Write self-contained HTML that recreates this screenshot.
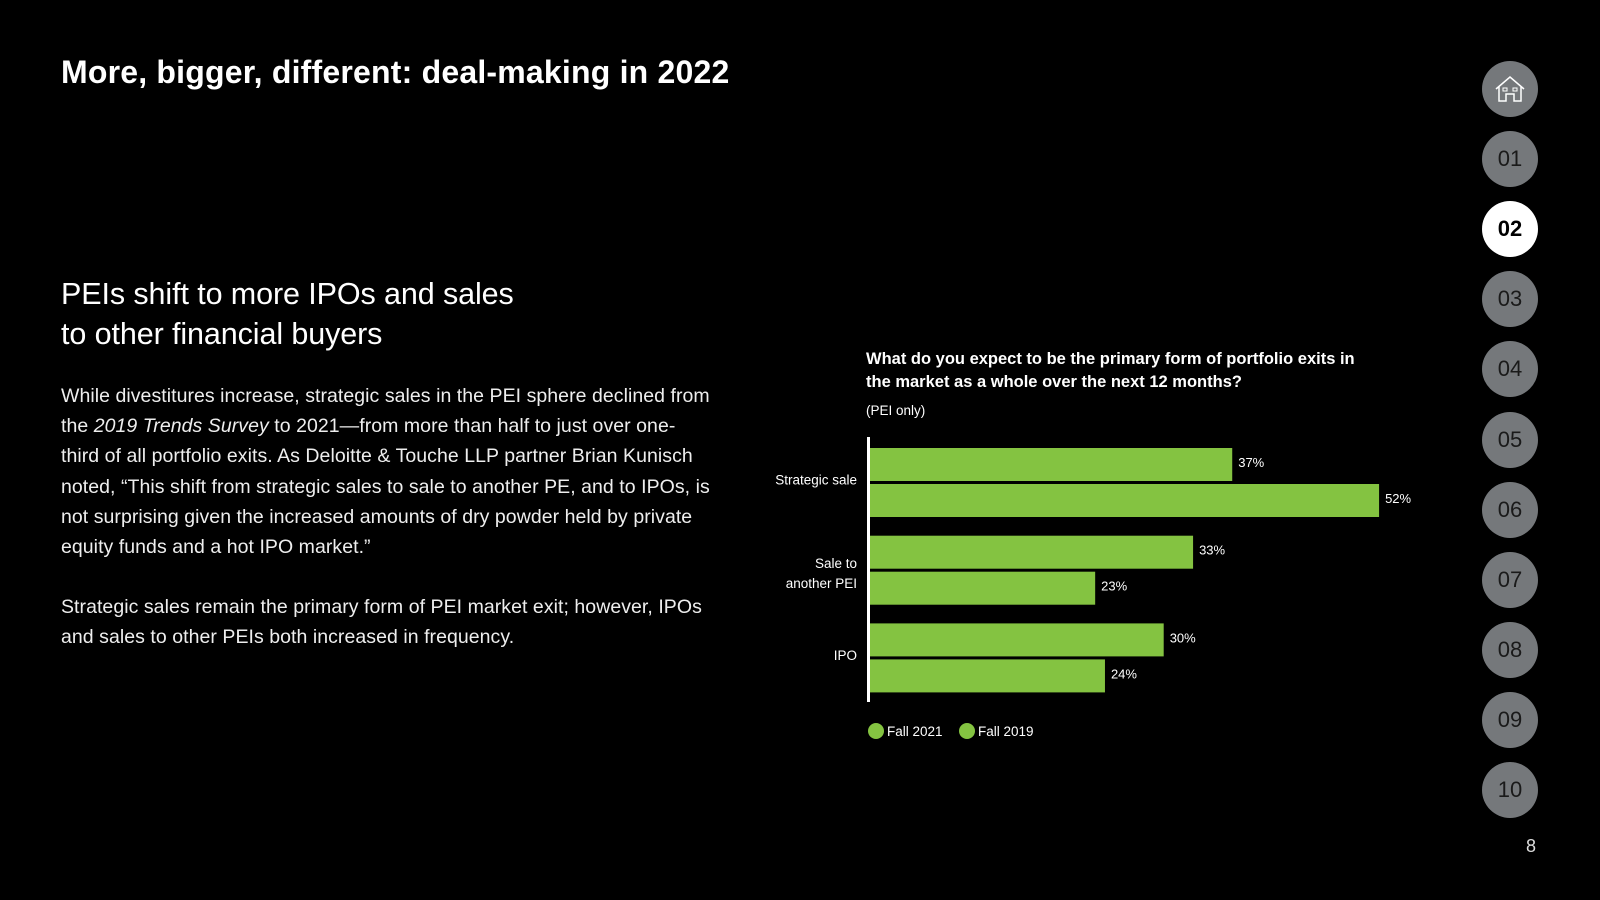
<!DOCTYPE html>
<html><head><meta charset="utf-8">
<style>
html,body{margin:0;padding:0;background:#000;}
body{width:1600px;height:900px;position:relative;overflow:hidden;font-family:"Liberation Sans",sans-serif;color:#fff;}
.abs{position:absolute;white-space:nowrap;}
#title{left:61px;top:54px;font-size:32px;font-weight:bold;letter-spacing:0.2px;}
#sub{left:61px;top:274px;font-size:30.5px;line-height:40px;letter-spacing:-0.1px;}
.body{left:61px;font-size:19.5px;line-height:30.2px;letter-spacing:0.05px;color:#eee;}
.nav{position:absolute;left:1482px;width:56px;height:56px;border-radius:50%;background:#75787b;color:#1a1a1a;font-size:22px;text-align:center;line-height:56px;}
.nav.active{background:#fff;color:#000;font-weight:bold;}
</style></head><body>
<div class="abs" id="title">More, bigger, different: deal-making in 2022</div>
<div class="abs" id="sub">PEIs shift to more IPOs and sales<br>to other financial buyers</div>
<div class="abs body" style="top:381px">While divestitures increase, strategic sales in the PEI sphere declined from<br>the <i>2019 Trends Survey</i> to 2021—from more than half to just over one-<br>third of all portfolio exits. As Deloitte &amp; Touche LLP partner Brian Kunisch<br>noted, “This shift from strategic sales to sale to another PE, and to IPOs, is<br>not surprising given the increased amounts of dry powder held by private<br>equity funds and a hot IPO market.”</div>
<div class="abs body" style="top:592px">Strategic sales remain the primary form of PEI market exit; however, IPOs<br>and sales to other PEIs both increased in frequency.</div>

<div id="navwrap"></div>
<div class="abs" style="left:1526px;top:836px;font-size:18px;color:#ddd">8</div>

<svg id="chart" width="1600" height="900" style="position:absolute;left:0;top:0">
<text x="866" y="364" font-size="16.5" font-weight="bold" fill="#fff">What do you expect to be the primary form of portfolio exits in</text>
<text x="866" y="387" font-size="16.5" font-weight="bold" fill="#fff">the market as a whole over the next 12 months?</text>
<text x="866" y="415" font-size="13.5" fill="#fff">(PEI only)</text>
<g id="bars"></g>
<rect x="867" y="437" width="3" height="265" fill="#fff"/>
<g id="legend"></g>
</svg>

<script>
const categories = [["Strategic sale"], ["Sale to", "another PEI"], ["IPO"]];
const fall2021 = [37, 33, 30];
const fall2019 = [52, 23, 24];
const seriesNames = ["Fall 2021", "Fall 2019"];

const NS = "http://www.w3.org/2000/svg";
const x0 = 870, pxPer = 9.79;
const xScale = v => x0 + v * pxPer;
const groupTop = i => 448 + i * 87.7;
const barH = 33, barGap = 3;
const green = "#84c341";
const g = document.getElementById("bars");
function mk(tag, attrs){const e=document.createElementNS(NS,tag);for(const k in attrs)e.setAttribute(k,attrs[k]);return e;}

categories.forEach((cat, i) => {
  const top = groupTop(i);
  [fall2021[i], fall2019[i]].forEach((v, j) => {
    const y = top + j * (barH + barGap);
    const r = mk("rect", {x: x0, y: y, width: xScale(v) - x0, height: barH, fill: green});
    
    
    g.appendChild(r);
    const t = mk("text", {x: xScale(v) + 6, y: y + 19, "font-size": 13, fill: "#fff"});
    t.textContent = v + "%";
    
    
    g.appendChild(t);
  });
  const mid = top + barH + barGap / 2;
  cat.forEach((line, k) => {
    const t = mk("text", {x: 857, y: mid + 2 + (k - (cat.length - 1) / 2) * 20 + (cat.length > 1 ? 6 : 0), "font-size": 13.5, fill: "#fff", "text-anchor": "end"});
    t.textContent = line;
    
    
    g.appendChild(t);
  });
});

const lg = document.getElementById("legend");
seriesNames.forEach((n, i) => {
  const cx = 876 + i * 91;
  const c = mk("circle", {cx: cx, cy: 731, r: 8, fill: green});
  
  
  lg.appendChild(c);
  const t = mk("text", {x: cx + 11, y: 736, "font-size": 13.5, fill: "#fff"});
  t.textContent = n;
  
  
  lg.appendChild(t);
});

const navLabels = ["home", "01","02","03","04","05","06","07","08","09","10"];
const nw = document.getElementById("navwrap");
navLabels.forEach((l, i) => {
  const d = document.createElement("div");
  d.className = "nav" + (l === "02" ? " active" : "");
  d.style.top = (61 + i * 70.1) + "px";
  
  
  if (l === "home") {
    d.innerHTML = '<svg width="56" height="56" viewBox="0 0 56 56"><path d="M14 28 L28 16 L42 28 M17 26 V40 H24 V33 H32 V40 H39 V26" fill="none" stroke="#fff" stroke-width="1.5"/><rect x="21" y="27" width="4" height="3" fill="none" stroke="#fff"/><rect x="31" y="27" width="4" height="3" fill="none" stroke="#fff"/></svg>';
  } else d.textContent = l;
  nw.appendChild(d);
});
</script>
</body></html>
